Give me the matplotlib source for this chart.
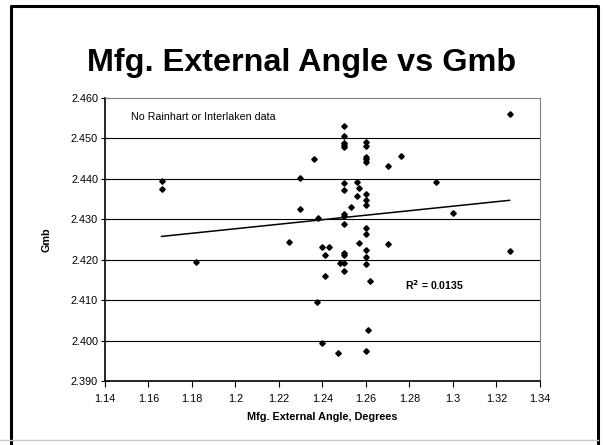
import matplotlib.pyplot as plt
import numpy as np
from matplotlib.lines import Line2D

plt.rcParams['font.family'] = ['Liberation Sans', 'DejaVu Sans']

angle = [1.166, 1.166, 1.182, 1.2245, 1.2297, 1.2297, 1.236, 1.238, 1.2375,
         1.240, 1.243, 1.241, 1.241, 1.240, 1.247, 1.248,
         1.25, 1.25, 1.25, 1.25, 1.25, 1.25, 1.25, 1.25, 1.25, 1.25, 1.25,
         1.25, 1.25, 1.25,
         1.253, 1.256, 1.257, 1.256, 1.257,
         1.26, 1.26, 1.26, 1.26, 1.26, 1.26, 1.26, 1.26, 1.26, 1.26, 1.26,
         1.26, 1.26, 1.26,
         1.262, 1.261, 1.27, 1.27, 1.276, 1.292, 1.30, 1.326, 1.326]
gmb = [2.4394, 2.4374, 2.4195, 2.4244, 2.4401, 2.4326, 2.4448, 2.4303, 2.4096,
       2.4232, 2.4230, 2.4212, 2.4159, 2.3994, 2.3970, 2.4192,
       2.4531, 2.4505, 2.4489, 2.4483, 2.4477, 2.4389, 2.4373, 2.4312, 2.4308,
       2.4289, 2.4217, 2.4212, 2.4191, 2.4173,
       2.4330, 2.4391, 2.4376, 2.4356, 2.4242,
       2.4491, 2.4481, 2.4454, 2.4448, 2.4441, 2.4362, 2.4347, 2.4334, 2.4277,
       2.4264, 2.4223, 2.4207, 2.4190, 2.3975,
       2.4148, 2.4027, 2.4431, 2.4238, 2.4457, 2.4391, 2.4315, 2.4560, 2.4222]
x_ticks = [1.14, 1.16, 1.18, 1.2, 1.22, 1.24, 1.26, 1.28, 1.3, 1.32, 1.34]
y_ticks = [2.39, 2.40, 2.41, 2.42, 2.43, 2.44, 2.45, 2.46]

W, H = 603, 445
fig = plt.figure(figsize=(W / 100, H / 100), dpi=100)

# slide frame: black left/top/right, light gray bottom
L, R, T, B = 10.5 / W, 597.5 / W, 1 - 5.5 / H, 1 - 440 / H
fig.lines.append(Line2D([L, L, R, R], [-0.05, T, T, -0.05],
                        transform=fig.transFigure, color='black', lw=2.2))
fig.lines.append(Line2D([0, R], [B, B], transform=fig.transFigure,
                        color='#c8c8c8', lw=1))

fig.text(0.5, 0.858, 'Mfg. External Angle vs Gmb', ha='center', va='center',
         fontsize=23.3, fontweight='bold')

ax = fig.add_axes([0.1741, 0.1438, 0.7214, 0.6367])
ax.set_xlim(1.14, 1.34)
ax.set_ylim(2.39, 2.46)

for v in y_ticks[1:-1]:
    ax.axhline(v, color='black', lw=0.8, zorder=1)

ax.plot(angle, gmb, 'D', color='black', markersize=2.8, zorder=3)

# linear trendline
k, b = np.polyfit(angle, gmb, 1)
xs = np.array([min(angle), max(angle)])
ax.plot(xs, k * xs + b, color='black', lw=1.1, zorder=2)

ax.set_xticks(x_ticks)
ax.set_xticklabels(['%g' % t for t in x_ticks])
ax.set_yticks(y_ticks)
ax.set_yticklabels(['%.3f' % t for t in y_ticks])
ax.tick_params(axis='both', labelsize=7.8, length=4, width=0.8, pad=5)
ax.tick_params(axis='y', direction='inout', length=6, pad=2)

for s in ['top', 'right']:
    ax.spines[s].set_color('gray')
    ax.spines[s].set_linewidth(0.8)
for s in ['left', 'bottom']:
    ax.spines[s].set_linewidth(1.2)

ax.set_xlabel('Mfg. External Angle, Degrees', fontsize=7.8, fontweight='bold',
              labelpad=6)
ax.set_ylabel('Gmb', fontsize=7.8, fontweight='bold', labelpad=14)

ax.text(1.152, 2.4553, 'No Rainhart or Interlaken data', fontsize=7.7,
        va='center')
ax.text(1.278, 2.4138, r'R$^{\mathbf{2}}$ = 0.0135', fontsize=7.6,
        fontweight='bold', va='center')

fig.savefig('out.png', dpi=100)
